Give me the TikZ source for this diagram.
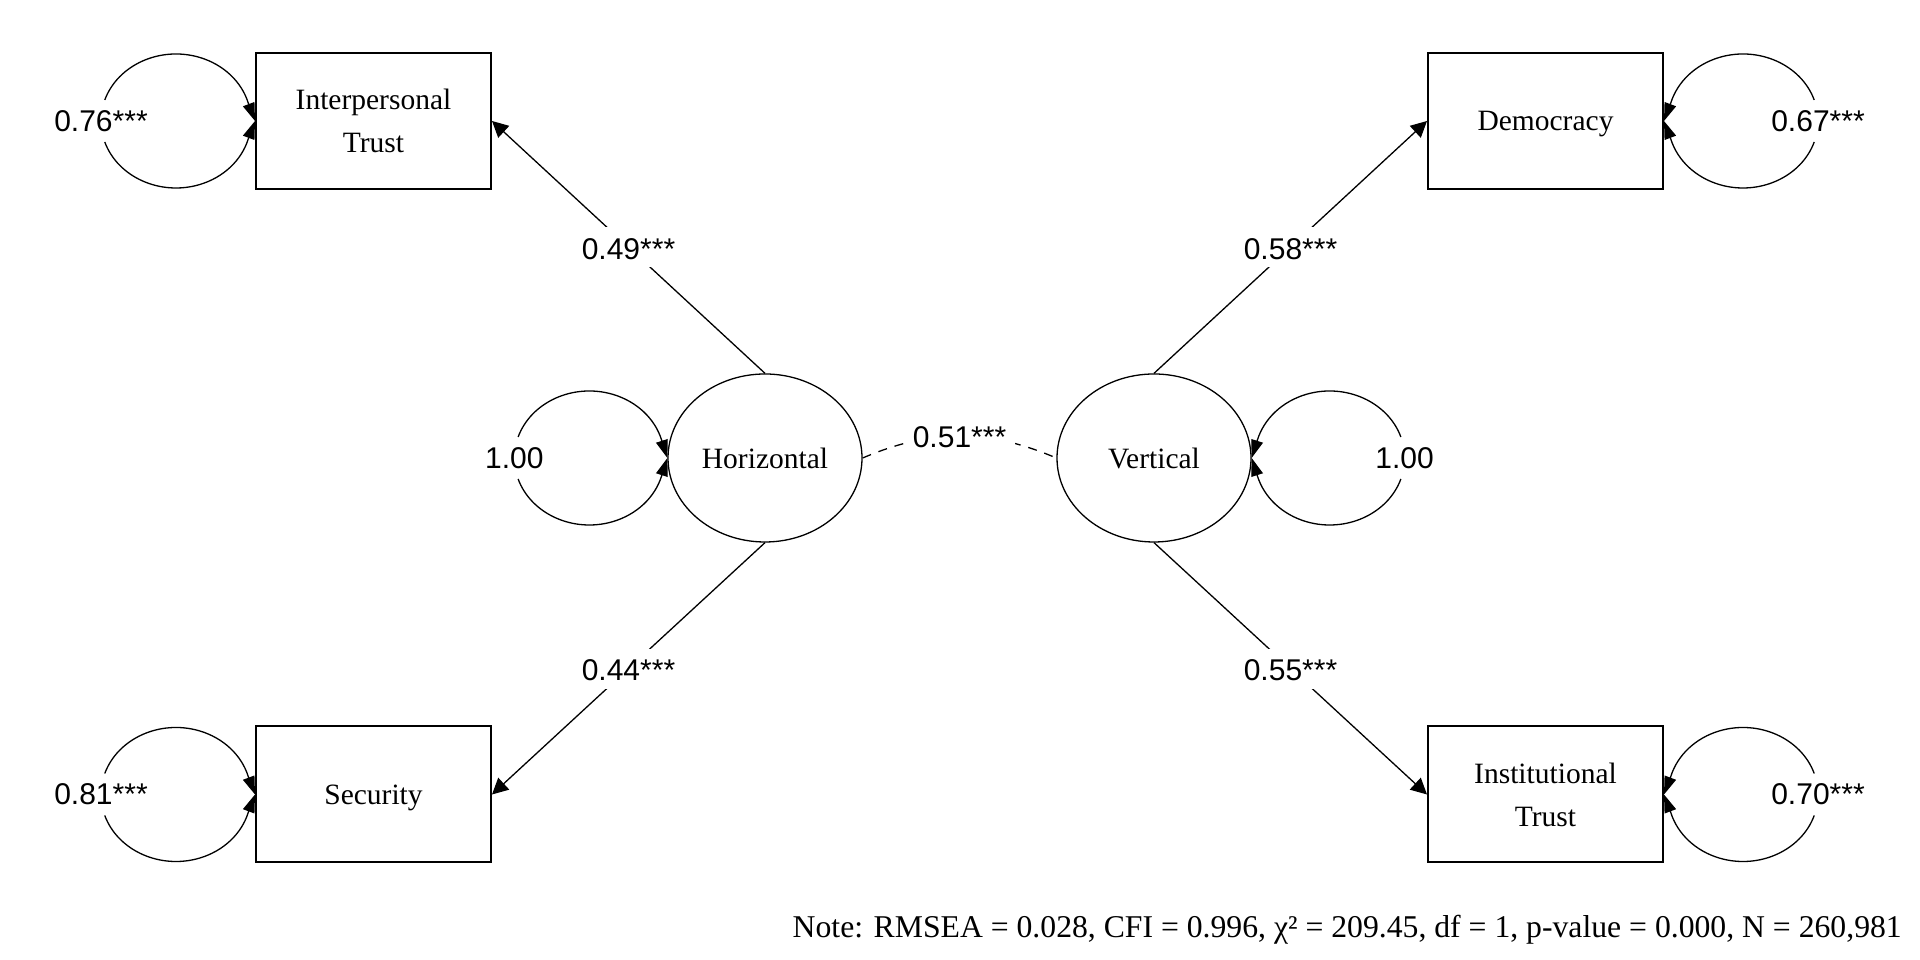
\documentclass[tikz,border=0pt]{standalone}
\usepackage{fontspec}
\setmainfont{Liberation Serif}
\newfontfamily\lsans{Liberation Sans}
\usetikzlibrary{shapes.geometric, arrows.meta}
\begin{document}
\begin{tikzpicture}[x=1pt,y=1pt,
  obs/.style={draw, line width=2pt, minimum width=235pt, minimum height=136pt, inner sep=0pt, align=center, font=\fontsize{29.5}{43}\selectfont},
  obsone/.style={obs, text depth=0pt},
  lat/.style={draw, ellipse, line width=1.3pt, minimum width=194pt, minimum height=168pt, inner sep=0pt, font=\fontsize{29.5}{43}\selectfont},
  num/.style={font=\lsans\fontsize{30}{35}\selectfont, inner sep=0pt},
  lab/.style={num, fill=white, inner xsep=6pt, inner ysep=6pt, text height=26pt, text depth=2pt},
  loadarrow/.style={line width=1.3pt, -{Triangle[length=16pt,width=16pt]}},
  selfloop/.style={line width=1.3pt, -{Triangle[length=18pt,width=12pt]}},
]
\useasboundingbox (0,0) rectangle (1920,960);

% observed variables
\node[obs] (it) at (373.5,839) {Interpersonal\\Trust};
\node[obsone] (sec) at (373.5,165.5) {Security};
\node[obsone] (dem) at (1545.5,839) {Democracy};
\node[obs] (inst) at (1545.5,165.5) {Institutional\\Trust};

% latent variables
\node[lat] (h) at (765,502) {Horizontal};
\node[lat] (v) at (1154,502) {Vertical};

% loadings
\draw[loadarrow] (h.north) -- node[lab] (l49) {0.49***} (it.east);
\draw[loadarrow] (h.south) -- node[lab] (l44) {0.44***} (sec.east);
\draw[loadarrow] (v.north) -- node[lab] (l58) {0.58***} (dem.west);
\draw[loadarrow] (v.south) -- node[lab] (l55) {0.55***} (inst.west);

% covariance
\draw[line width=1.3pt, dash pattern=on 9pt off 8pt] (h.east) to[bend left=23] node[lab, inner xsep=9pt] (l51) {0.51***} (v.west);

% self loops, left side
\coordinate (itc) at ([xshift=-79pt]it.west);
\node[num] (r76) at ([xshift=-75pt]itc) {0.76***};
\draw[selfloop] ([shift={(161.74:75pt and 67pt)}]itc) arc[start angle=161.74, end angle=15.6, x radius=75pt, y radius=67pt] -- (it.west);
\draw[selfloop] ([shift={(198.26:75pt and 67pt)}]itc) arc[start angle=198.26, end angle=344.4, x radius=75pt, y radius=67pt] -- (it.west);

\coordinate (secc) at ([xshift=-79pt]sec.west);
\node[num] (r81) at ([xshift=-75pt]secc) {0.81***};
\draw[selfloop] ([shift={(161.74:75pt and 67pt)}]secc) arc[start angle=161.74, end angle=15.6, x radius=75pt, y radius=67pt] -- (sec.west);
\draw[selfloop] ([shift={(198.26:75pt and 67pt)}]secc) arc[start angle=198.26, end angle=344.4, x radius=75pt, y radius=67pt] -- (sec.west);

\coordinate (hc) at ([xshift=-78pt]h.west);
\node[num] (rh) at ([xshift=-75pt]hc) {1.00};
\draw[selfloop] ([shift={(161.74:75pt and 67pt)}]hc) arc[start angle=161.74, end angle=15.6, x radius=75pt, y radius=67pt] -- (h.west);
\draw[selfloop] ([shift={(198.26:75pt and 67pt)}]hc) arc[start angle=198.26, end angle=344.4, x radius=75pt, y radius=67pt] -- (h.west);

% self loops, right side
\coordinate (demc) at ([xshift=79pt]dem.east);
\node[num] (r67) at ([xshift=75pt]demc) {0.67***};
\draw[selfloop] ([shift={(18.26:75pt and 67pt)}]demc) arc[start angle=18.26, end angle=164.4, x radius=75pt, y radius=67pt] -- (dem.east);
\draw[selfloop] ([shift={(-18.26:75pt and 67pt)}]demc) arc[start angle=-18.26, end angle=-164.4, x radius=75pt, y radius=67pt] -- (dem.east);

\coordinate (instc) at ([xshift=79pt]inst.east);
\node[num] (r70) at ([xshift=75pt]instc) {0.70***};
\draw[selfloop] ([shift={(18.26:75pt and 67pt)}]instc) arc[start angle=18.26, end angle=164.4, x radius=75pt, y radius=67pt] -- (inst.east);
\draw[selfloop] ([shift={(-18.26:75pt and 67pt)}]instc) arc[start angle=-18.26, end angle=-164.4, x radius=75pt, y radius=67pt] -- (inst.east);

\coordinate (vc) at ([xshift=78pt]v.east);
\node[num] (rv) at ([xshift=75pt]vc) {1.00};
\draw[selfloop] ([shift={(18.26:75pt and 67pt)}]vc) arc[start angle=18.26, end angle=164.4, x radius=75pt, y radius=67pt] -- (v.east);
\draw[selfloop] ([shift={(-18.26:75pt and 67pt)}]vc) arc[start angle=-18.26, end angle=-164.4, x radius=75pt, y radius=67pt] -- (v.east);

% note
\node[anchor=base east, inner sep=0pt, font=\fontsize{31.7}{37}\selectfont] (note) at (1902,22) {Note: RMSEA = 0.028, CFI = 0.996, χ² = 209.45, df = 1, p-value = 0.000, N = 260,981};
\end{tikzpicture}
\end{document}
